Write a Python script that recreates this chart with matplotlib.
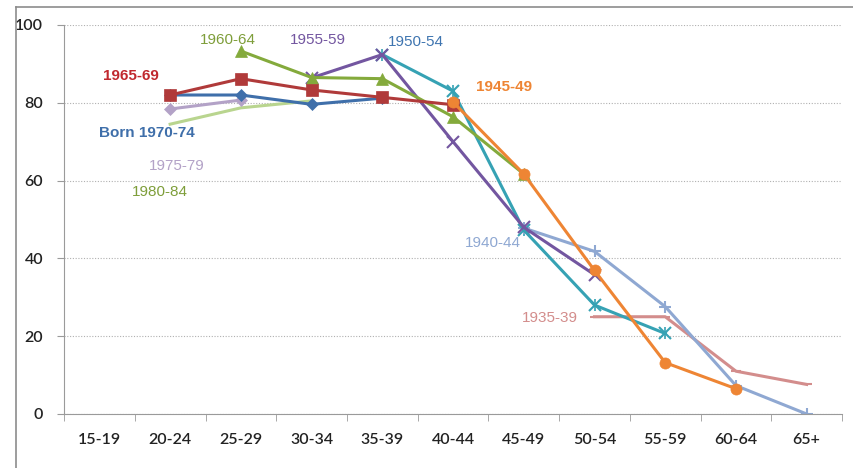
import matplotlib.pyplot as plt
import numpy as np

# age groups on the x axis
age_groups = ["15-19", "20-24", "25-29", "30-34", "35-39", "40-44",
              "45-49", "50-54", "55-59", "60-64", "65+"]

nan = np.nan
# participation by birth cohort, one value per age group
born_1980_84 = [nan, 74.5, 78.7, 80.5, nan, nan, nan, nan, nan, nan, nan]
born_1975_79 = [nan, 78.4, 80.7, nan, nan, nan, nan, nan, nan, nan, nan]
born_1970_74 = [nan, 82.0, 82.0, 79.6, 81.2, nan, nan, nan, nan, nan, nan]
born_1965_69 = [nan, 82.0, 86.2, 83.3, 81.4, 79.5, nan, nan, nan, nan, nan]
born_1960_64 = [nan, nan, 93.3, 86.5, 86.2, 76.4, 61.7, nan, nan, nan, nan]
born_1955_59 = [nan, nan, nan, 86.4, 92.4, 70.0, 48.0, 35.8, nan, nan, nan]
born_1950_54 = [nan, nan, nan, nan, 92.4, 83.0, 47.3, 28.0, 20.7, nan, nan]
born_1945_49 = [nan, nan, nan, nan, nan, 80.2, 61.7, 36.9, 13.2, 6.5, nan]
born_1940_44 = [nan, nan, nan, nan, nan, nan, 47.8, 41.8, 27.6, 7.3, 0.0]
born_1935_39 = [nan, nan, nan, nan, nan, nan, nan, 25.0, 25.0, 11.0, 7.6]

x = np.arange(len(age_groups))

fig = plt.figure(figsize=(8.54, 4.68), dpi=100)
ax = fig.add_axes([0.075, 0.1154, 0.911, 0.8312])

# (values, line colour, text colour, marker, marker size, label, label x, label y, bold)
series = [
    (born_1935_39, "#D38D8C", "#D38D8C", "_", 7, "1935-39", 6.37, 24.7, False),
    (born_1940_44, "#8FA8D2", "#8FA8D2", "+", 9, "1940-44", 5.57, 44.0, False),
    (born_1950_54, "#36A2B4", "#3F75B0", "x", 8, "1950-54", 4.48, 95.6, False),
    (born_1955_59, "#7356A0", "#7356A0", "x", 8, "1955-59", 3.09, 96.1, False),
    (born_1960_64, "#84AA3C", "#7E9E3A", "^", 8, "1960-64", 1.81, 96.1, False),
    (born_1980_84, "#B9D58F", "#7E9E3A", "", 0, "1980-84", 0.85, 57.0, False),
    (born_1975_79, "#B3A2C7", "#B3A2C7", "D", 6, "1975-79", 1.09, 63.8, False),
    (born_1970_74, "#3F6FAA", "#3F6FAA", "D", 6, "Born 1970-74", 0.67, 72.2, True),
    (born_1965_69, "#B03A3A", "#C0282E", "s", 8, "1965-69", 0.45, 87.0, True),
    (born_1945_49, "#EE8534", "#EE8534", "o", 8, "1945-49", 5.72, 84.0, True),
]

for vals, col, tcol, mk, ms, lab, lx, ly, bold in series:
    ax.plot(x, vals, color=col, lw=2.2, marker=mk if mk else None,
            markersize=ms, markeredgewidth=1.5 if mk in ("x", "+", "_") else 0.5,
            markeredgecolor=col, markerfacecolor=col)
    ax.text(lx, ly, lab, color=tcol, fontsize=11, ha="center", va="center",
            family="Liberation Sans", fontweight="bold" if bold else "normal")

# 1950-54 uses a star-like marker: draw a bar on top of the x
ax.plot(x, born_1950_54, ls="none", marker="|", markersize=8,
        markeredgewidth=1.2, color="#36A2B4", zorder=1.5)

ax.set_xlim(-0.5, 10.5)
ax.set_ylim(0, 100)
ax.set_yticks([0, 20, 40, 60, 80, 100])
ax.set_xticks(x)
ax.set_xticklabels(age_groups)
ax.set_xticks(np.arange(-0.5, 11, 1), minor=True)
ax.tick_params(axis="x", which="major", length=0, pad=14)
ax.tick_params(axis="x", which="minor", length=5, color="#9a9a9a", direction="out")
ax.tick_params(axis="y", length=5, color="#9a9a9a", pad=10)
for lbl in ax.get_xticklabels() + ax.get_yticklabels():
    lbl.set_family("Lato")
    lbl.set_fontsize(11.5)
    lbl.set_fontweight("semibold")
    lbl.set_color("#222222")

ax.grid(axis="y", color="#b0b0b0", ls=(0, (1, 1.5)), lw=0.8)
ax.set_axisbelow(True)
for side in ("top", "right"):
    ax.spines[side].set_visible(False)
ax.spines["left"].set_color("#9a9a9a")
ax.spines["bottom"].set_color("#9a9a9a")

# outer chart frame (top and left edges)
fig.add_artist(plt.Line2D([16 / 854, 1], [1 - 7 / 468] * 2, color="#8c8c8c", lw=1.2))
fig.add_artist(plt.Line2D([16 / 854] * 2, [0, 1 - 7 / 468], color="#8c8c8c", lw=1.2))

fig.savefig("out.png", dpi=100)
